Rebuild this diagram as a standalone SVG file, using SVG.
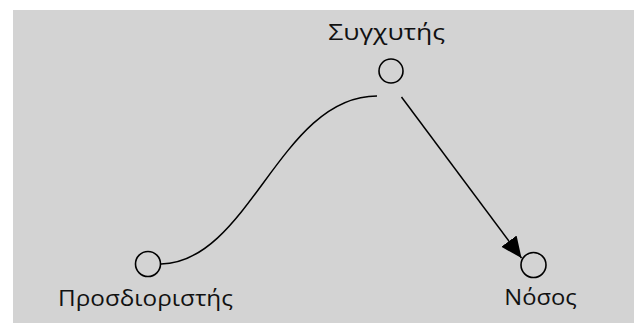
<svg xmlns="http://www.w3.org/2000/svg" width="634" height="323" viewBox="0 0 634 323">
  <style>
    .node circle { fill: none; stroke: #000; stroke-width: 1.6; }
    .label { font-family: "Open Sans", "Liberation Sans", sans-serif; font-size: 22px; fill: #111; text-anchor: middle; }
    .edge { fill: none; stroke: #000; stroke-width: 1.5; }
  </style>
  <defs>
    <marker id="arrow" markerUnits="userSpaceOnUse" markerWidth="24" markerHeight="22" refX="21" refY="9.5" orient="auto">
      <path d="M0,0 L21,9.5 L0,19 Z" fill="#000"/>
    </marker>
  </defs>
  <rect x="13" y="10" width="621" height="313" fill="#d3d3d3"/>
  <g id="connectors">
    <path class="edge" d="M161,264 C250,262 280,96 377,96"/>
    <line class="edge" x1="401.5" y1="97" x2="521.5" y2="258" marker-end="url(#arrow)"/>
  </g>
  <g id="node-confounder" class="node">
    <circle cx="391" cy="71" r="12"/>
    <text class="label" x="386.7" y="39.5" textLength="117" lengthAdjust="spacingAndGlyphs">Συγχυτής</text>
  </g>
  <g id="node-determinant" class="node">
    <circle cx="148" cy="264" r="12.5"/>
    <text class="label" x="145.5" y="306" textLength="175" lengthAdjust="spacingAndGlyphs">Προσδιοριστής</text>
  </g>
  <g id="node-disease" class="node">
    <circle cx="533.5" cy="265" r="12.5"/>
    <text class="label" x="540.5" y="304.5" textLength="72.5" lengthAdjust="spacingAndGlyphs">Νόσος</text>
  </g>
</svg>
